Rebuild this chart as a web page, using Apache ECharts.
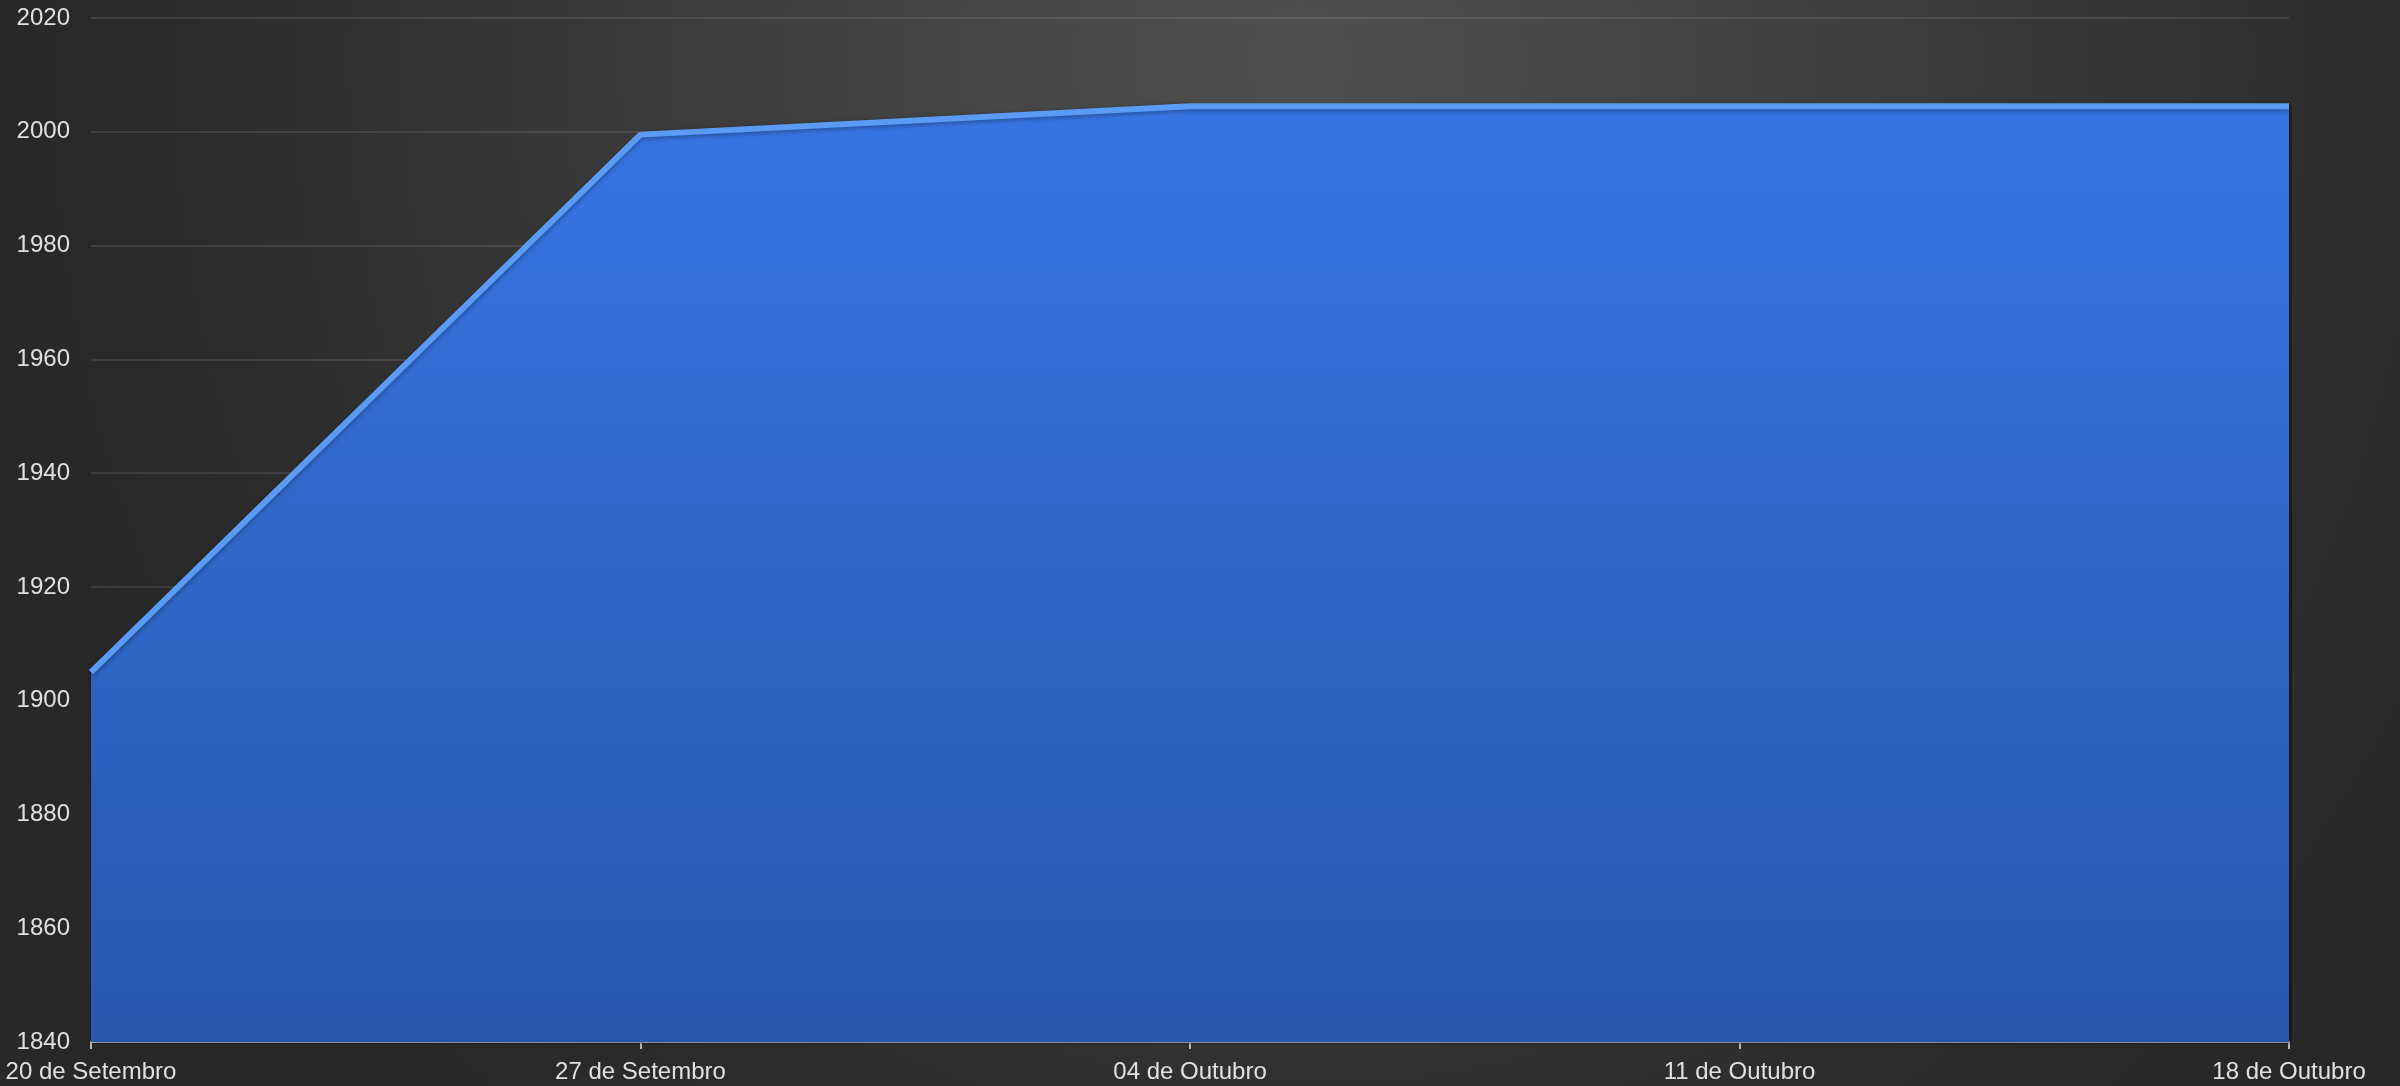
<!DOCTYPE html>
<html>
<head>
<meta charset="utf-8">
<script src="https://cdn.jsdelivr.net/npm/echarts@6/dist/echarts.min.js"></script>
<style>
html,body{margin:0;padding:0;width:2400px;height:1086px;overflow:hidden;}
#c{width:2400px;height:1086px;background:radial-gradient(ellipse 1300px 1400px at 1300px 60px,#505050 0%,#3d3d3d 45%,#2b2b2b 85%,#282828 100%);}
</style>
</head>
<body>
<div id="c"></div>
<script>
const categories = ['20 de Setembro','27 de Setembro','04 de Outubro','11 de Outubro','18 de Outubro'];
const values = [1905, 1999.5, 2004.5, 2004.5, 2004.5];
const yTicks = {min:1840, max:2020, interval:20};

const chart = echarts.init(document.getElementById('c'), null, {renderer:'canvas'});
chart.setOption({
  backgroundColor:'transparent',
  animation:false,
  grid:{left:91, right:111, top:18, bottom:44, containLabel:false},
  xAxis:{
    type:'category', data:categories, boundaryGap:false,
    axisLine:{show:true, lineStyle:{color:'#b8b8b8', width:2}},
    axisTick:{show:true, alignWithLabel:true, length:7, lineStyle:{color:'#b8b8b8', width:2}},
    axisLabel:{color:'#e0e0e0', fontFamily:'Liberation Sans, Arial, sans-serif', fontSize:24, margin:18, interval:0},
    splitLine:{show:false}
  },
  yAxis:{
    type:'value', min:yTicks.min, max:yTicks.max, interval:yTicks.interval,
    axisLine:{show:false}, axisTick:{show:false},
    axisLabel:{color:'#e0e0e0', fontFamily:'Liberation Sans, Arial, sans-serif', fontSize:24, margin:21, formatter:v=>String(v)},
    splitLine:{show:true, lineStyle:{color:'rgba(255,255,255,0.1)', width:2}}
  },
  series:[{
    type:'line', data:values, symbol:'none', z:3,
    lineStyle:{color:'#5a9cf5', width:6, shadowColor:'rgba(0,0,0,0.3)', shadowBlur:4, shadowOffsetY:2},
    areaStyle:{
      color:new echarts.graphic.LinearGradient(0,0,0,1,[{offset:0,color:'#3675e2'},{offset:1,color:'#2857ac'}]),
      opacity:1,
      shadowColor:'rgba(0,0,0,0.55)', shadowBlur:6, shadowOffsetX:3
    }
  }]
});
</script>
</body>
</html>
